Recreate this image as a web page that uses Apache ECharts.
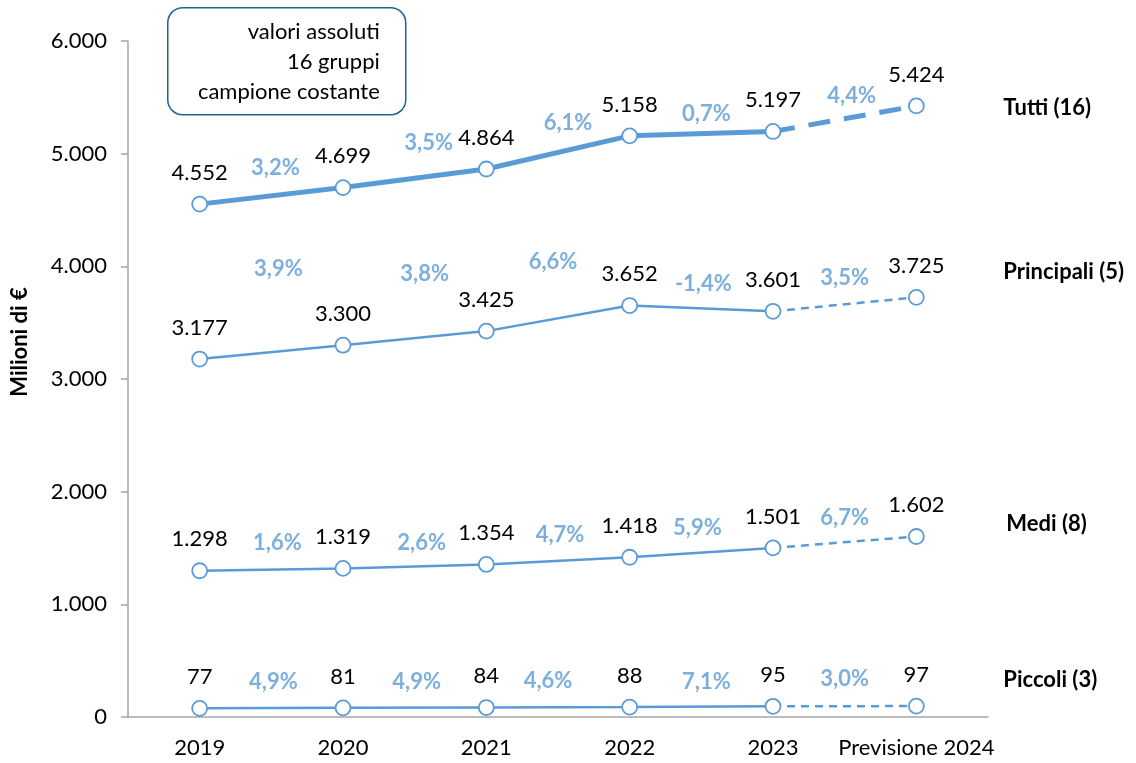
<!DOCTYPE html>
<html>
<head>
<meta charset="utf-8">
<script src="https://cdn.jsdelivr.net/npm/echarts@6/dist/echarts.min.js"></script>
<style>
  html, body { margin: 0; padding: 0; background: #fff; }
  #main { width: 1136px; height: 763px; }
</style>
</head>
<body>
<div id="main"></div>
<script>
// anni (categorie)
var anni = ['2019', '2020', '2021', '2022', '2023', 'Previsione 2024'];
// valori assoluti, milioni di euro
var tutti = [4552, 4699, 4864, 5158, 5197, 5424];
var principali = [3177, 3300, 3425, 3652, 3601, 3725];
var medi = [1298, 1319, 1354, 1418, 1501, 1602];
var piccoli = [77, 81, 84, 88, 95, 97];
// variazioni % anno su anno
var tuttiPct = [3.2, 3.5, 6.1, 0.7, 4.4];
var principaliPct = [3.9, 3.8, 6.6, -1.4, 3.5];
var mediPct = [1.6, 2.6, 4.7, 5.9, 6.7];
var piccoliPct = [4.9, 4.9, 4.6, 7.1, 3.0];
var nomi = ['Tutti (16)', 'Principali (5)', 'Medi (8)', 'Piccoli (3)'];
var yTicks = [0, 1000, 2000, 3000, 4000, 5000, 6000];

var BLU = '#5B9BD5';
var FONT = 'Lato';
var FS = 22;

function fmt(v) {
  return String(v).replace(/\B(?=(\d{3})+(?!\d))/g, '.');
}
function fmtPct(p) {
  return p.toFixed(1).replace('.', ',') + '%';
}

var chart = echarts.init(document.getElementById('main'));

// stile per gruppo: spessore linea, tratteggio, spostamento etichette %
var gruppi = [
  { nome: nomi[0], val: tutti, pct: tuttiPct, lw: 5, dash: [22, 14], endOff: [87, 2],
    pctOff: [[4, -28], [14, -35], [10, -30], [5, -20], [7, -23]] },
  { nome: nomi[1], val: principali, pct: principaliPct, lw: 2.5, dash: [8, 6], endOff: [87, -25],
    pctOff: [[7, -83], [10, -64], [-5, -56], [2, -25], [0, -26]] },
  { nome: nomi[2], val: medi, pct: mediPct, lw: 2.5, dash: [8, 6], endOff: [90, -13],
    pctOff: [[6, -27], [7, -24], [2, -26], [-4, -25], [0, -24]] },
  { nome: nomi[3], val: piccoli, pct: piccoliPct, lw: 2.5, dash: [8, 6], endOff: [87, -26],
    pctOff: [[2, -26], [2, -26], [-10, -26], [5, -25], [0, -27]] }
];

var series = [];
gruppi.forEach(function (g) {
  var solida = g.val.map(function (v, i) { return i <= 4 ? v : null; });
  var tratteggio = g.val.map(function (v, i) { return i >= 4 ? v : null; });
  series.push({
    type: 'line', name: g.nome + ' storico', data: solida,
    showSymbol: false, z: 2,
    lineStyle: { color: BLU, width: g.lw }
  });
  series.push({
    type: 'line', name: g.nome, data: tratteggio,
    showSymbol: false, z: 2,
    lineStyle: { color: BLU, width: g.lw, type: g.dash },
    endLabel: {
      show: true, distance: 0, offset: g.endOff, align: 'left',
      formatter: g.nome, color: '#000', fontWeight: 'bold', fontSize: FS, fontFamily: FONT
    }
  });
  // punti con valori
  series.push({
    type: 'line', data: g.val, z: 5,
    symbol: 'circle', symbolSize: 15, showAllSymbol: true,
    lineStyle: { opacity: 0, width: 0 },
    itemStyle: { color: '#fff', borderColor: BLU, borderWidth: 1.8 },
    label: {
      show: true, position: 'top', distance: 12,
      color: '#000', fontSize: FS, fontFamily: FONT,
      formatter: function (p) { return fmt(p.value); }
    }
  });
  // variazioni %
  series.push({
    type: 'scatter', xAxisIndex: 1, z: 6,
    symbolSize: 1, itemStyle: { color: 'rgba(0,0,0,0)' },
    data: g.pct.map(function (p, i) {
      return {
        value: [i + 0.5, (g.val[i] + g.val[i + 1]) / 2],
        label: { offset: g.pctOff[i] }
      };
    }),
    label: {
      show: true, position: 'inside',
      color: BLU, fontWeight: 'bold', fontSize: FS, fontFamily: FONT,
      formatter: function (p) { return fmtPct(g.pct[p.dataIndex]); }
    }
  });
});

var option = {
  animation: false,
  grid: { left: 128, right: 148, top: 41, bottom: 46 },
  xAxis: [{
    type: 'category',
    data: anni,
    axisLine: { lineStyle: { color: '#A6A6A6', width: 1.5 } },
    axisTick: { show: false },
    axisLabel: { color: '#000', fontSize: FS, fontFamily: FONT, margin: 20, interval: 0 }
  }, {
    type: 'value', min: -0.5, max: 5.5, show: false
  }],
  yAxis: {
    type: 'value',
    min: yTicks[0], max: yTicks[yTicks.length - 1], interval: 1000,
    axisLine: { show: true, onZero: false, lineStyle: { color: '#A6A6A6', width: 1.5 } },
    axisTick: { show: true, length: 7, lineStyle: { color: '#A6A6A6', width: 1.5 } },
    splitLine: { show: false },
    axisLabel: {
      color: '#000', fontSize: FS, fontFamily: FONT, margin: 21,
      formatter: function (v) { return fmt(v); }
    }
  },
  graphic: [{
    type: 'text', x: 20, y: 342, rotation: Math.PI / 2,
    style: { text: 'Milioni di €', align: 'center', verticalAlign: 'middle', fill: '#000', font: 'bold ' + FS + 'px ' + FONT }
  }, {
    type: 'group',
    left: 167, top: 7,
    children: [{
      type: 'rect',
      shape: { x: 0, y: 0, width: 238, height: 107, r: 15 },
      style: { fill: '#fff', stroke: '#1F6391', lineWidth: 1.5 }
    }, {
      type: 'text', x: 212, y: 24,
      style: { text: 'valori assoluti', align: 'right', verticalAlign: 'middle', fill: '#000', font: FS + 'px ' + FONT }
    }, {
      type: 'text', x: 212, y: 54,
      style: { text: '16 gruppi', align: 'right', verticalAlign: 'middle', fill: '#000', font: FS + 'px ' + FONT }
    }, {
      type: 'text', x: 212, y: 84,
      style: { text: 'campione costante', align: 'right', verticalAlign: 'middle', fill: '#000', font: FS + 'px ' + FONT }
    }]
  }],
  series: series
};

chart.setOption(option);
</script>
</body>
</html>
